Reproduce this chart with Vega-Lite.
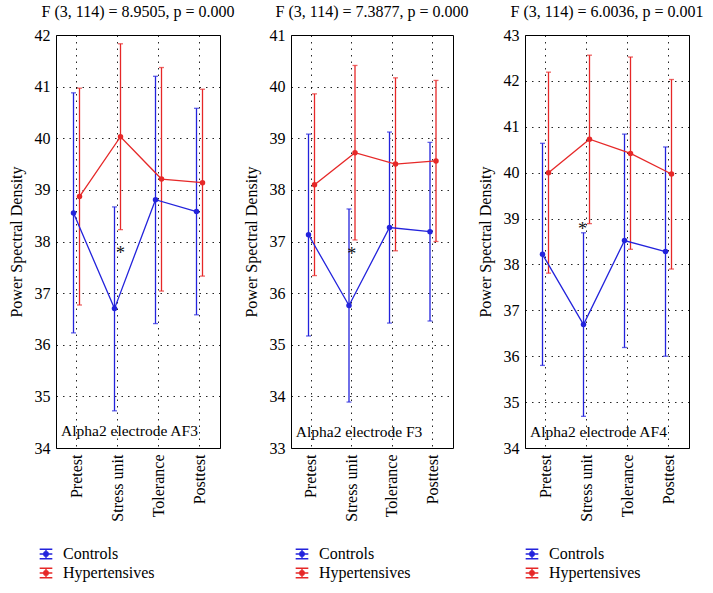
{
  "$schema": "https://vega.github.io/schema/vega-lite/v6.json",
  "background": "white",
  "padding": {"left": 7, "top": 3, "right": 5, "bottom": 5},
  "spacing": 6,
  "datasets": {
    "d": [
      {"panel": "AF3", "phase": "Pretest", "group": "Controls", "mean": 38.55, "lo": 36.23, "hi": 40.88},
      {"panel": "AF3", "phase": "Pretest", "group": "Hypertensives", "mean": 38.87, "lo": 36.77, "hi": 40.97},
      {"panel": "AF3", "phase": "Stress unit", "group": "Controls", "mean": 36.70, "lo": 34.72, "hi": 38.67},
      {"panel": "AF3", "phase": "Stress unit", "group": "Hypertensives", "mean": 40.03, "lo": 38.23, "hi": 41.83},
      {"panel": "AF3", "phase": "Tolerance", "group": "Controls", "mean": 38.81, "lo": 36.41, "hi": 41.20},
      {"panel": "AF3", "phase": "Tolerance", "group": "Hypertensives", "mean": 39.21, "lo": 37.04, "hi": 41.37},
      {"panel": "AF3", "phase": "Posttest", "group": "Controls", "mean": 38.58, "lo": 36.58, "hi": 40.58},
      {"panel": "AF3", "phase": "Posttest", "group": "Hypertensives", "mean": 39.14, "lo": 37.33, "hi": 40.95},
      {"panel": "F3", "phase": "Pretest", "group": "Controls", "mean": 37.13, "lo": 35.17, "hi": 39.08},
      {"panel": "F3", "phase": "Pretest", "group": "Hypertensives", "mean": 38.10, "lo": 36.34, "hi": 39.86},
      {"panel": "F3", "phase": "Stress unit", "group": "Controls", "mean": 35.76, "lo": 33.89, "hi": 37.63},
      {"panel": "F3", "phase": "Stress unit", "group": "Hypertensives", "mean": 38.72, "lo": 37.03, "hi": 40.41},
      {"panel": "F3", "phase": "Tolerance", "group": "Controls", "mean": 37.27, "lo": 35.42, "hi": 39.12},
      {"panel": "F3", "phase": "Tolerance", "group": "Hypertensives", "mean": 38.50, "lo": 36.82, "hi": 40.17},
      {"panel": "F3", "phase": "Posttest", "group": "Controls", "mean": 37.19, "lo": 35.46, "hi": 38.92},
      {"panel": "F3", "phase": "Posttest", "group": "Hypertensives", "mean": 38.56, "lo": 37.00, "hi": 40.12},
      {"panel": "AF4", "phase": "Pretest", "group": "Controls", "mean": 38.22, "lo": 35.80, "hi": 40.64},
      {"panel": "AF4", "phase": "Pretest", "group": "Hypertensives", "mean": 40.00, "lo": 37.81, "hi": 42.19},
      {"panel": "AF4", "phase": "Stress unit", "group": "Controls", "mean": 36.69, "lo": 34.69, "hi": 38.69},
      {"panel": "AF4", "phase": "Stress unit", "group": "Hypertensives", "mean": 40.73, "lo": 38.89, "hi": 42.56},
      {"panel": "AF4", "phase": "Tolerance", "group": "Controls", "mean": 38.52, "lo": 36.19, "hi": 40.84},
      {"panel": "AF4", "phase": "Tolerance", "group": "Hypertensives", "mean": 40.42, "lo": 38.33, "hi": 42.52},
      {"panel": "AF4", "phase": "Posttest", "group": "Controls", "mean": 38.28, "lo": 36.00, "hi": 40.56},
      {"panel": "AF4", "phase": "Posttest", "group": "Hypertensives", "mean": 39.97, "lo": 37.90, "hi": 42.03}
    ]
  },
  "config": {
    "font": "Liberation Serif, Times New Roman, serif",
    "view": {"stroke": "black", "strokeWidth": 1},
    "axis": {
      "labelFont": "Liberation Serif, Times New Roman, serif", "labelFontSize": 16, "labelColor": "black",
      "titleFont": "Liberation Serif, Times New Roman, serif", "titleFontSize": 16, "titleFontWeight": "normal", "titleColor": "black",
      "gridColor": "black", "gridDash": [1.5, 5], "gridOpacity": 0.85, "gridWidth": 1,
      "domain": false, "ticks": false
    },
    "legend": {
      "labelFont": "Liberation Serif, Times New Roman, serif", "labelFontSize": 16, "labelColor": "black",
      "symbolType": "M-1,-0.75H1M0,-0.75V0.75M-1,0.75H1M-1,0H1M-0.35,0A0.35,0.35 0 1,0 0.35,0A0.35,0.35 0 1,0 -0.35,0Z",
      "symbolSize": 160, "symbolStrokeWidth": 1.4, "symbolOpacity": 1, "rowPadding": 3, "labelOffset": 9
    },
    "text": {"font": "Liberation Serif, Times New Roman, serif"},
    "title": {"font": "Liberation Serif, Times New Roman, serif", "fontSize": 16, "fontWeight": "normal", "color": "black", "offset": 7}
  },
  "resolve": {"legend": {"color": "independent"}},
  "hconcat": [
    {
      "width": 164, "height": 413,
      "title": "F (3, 114) = 8.9505, p = 0.000",
      "encoding": {
        "x": {"field": "phase", "type": "nominal", "sort": ["Pretest", "Stress unit", "Tolerance", "Posttest"],
              "scale": {"type": "band", "paddingInner": 0, "paddingOuter": 0},
              "axis": {"title": null, "labelAngle": -90, "grid": true, "labelPadding": 6}}
      },
      "layer": [
        {
          "data": {"name": "d"},
          "transform": [{"filter": "datum.panel == 'AF3'"}],
          "encoding": {
            "xOffset": {"field": "group", "type": "nominal", "scale": {"type": "point", "range": [17.5, 23.5], "padding": 0}},
            "color": {"field": "group", "type": "nominal",
                      "scale": {"domain": ["Controls", "Hypertensives"], "range": ["#2323dc", "#e62828"]},
                      "legend": {"title": null, "orient": "none", "legendX": -18, "legendY": 511}}
          },
          "layer": [
            {"mark": {"type": "rule", "strokeWidth": 1.3},
             "encoding": {"y": {"field": "lo", "type": "quantitative",
                                "scale": {"domain": [34, 42], "nice": false, "zero": false},
                                "axis": {"title": "Power Spectral Density", "values": [34, 35, 36, 37, 38, 39, 40, 41, 42], "grid": true, "labelPadding": 6, "titlePadding": 10}},
                          "y2": {"field": "hi"}}},
            {"mark": {"type": "tick", "size": 5, "thickness": 1.3}, "encoding": {"y": {"field": "lo", "type": "quantitative"}}},
            {"mark": {"type": "tick", "size": 5, "thickness": 1.3}, "encoding": {"y": {"field": "hi", "type": "quantitative"}}},
            {"mark": {"type": "line", "strokeWidth": 1.3}, "encoding": {"y": {"field": "mean", "type": "quantitative"}}},
            {"mark": {"type": "point", "filled": true, "size": 30, "opacity": 1}, "encoding": {"y": {"field": "mean", "type": "quantitative"}}}
          ]
        },
        {
          "data": {"values": [{}]},
          "mark": {"type": "text", "text": "*", "fontSize": 18, "color": "#111111", "dx": 3, "dy": 4},
          "encoding": {"x": {"datum": "Stress unit"}, "y": {"datum": 37.83}}
        },
        {
          "data": {"values": [{}]},
          "mark": {"type": "text", "text": "Alpha2 electrode AF3", "fontSize": 15.5, "align": "left", "baseline": "middle", "color": "black", "dx": -15.5},
          "encoding": {"x": {"datum": "Pretest"}, "y": {"datum": 34.32}}
        }
      ]
    },
    {
      "width": 162, "height": 413,
      "title": "F (3, 114) = 7.3877, p = 0.000",
      "encoding": {
        "x": {"field": "phase", "type": "nominal", "sort": ["Pretest", "Stress unit", "Tolerance", "Posttest"],
              "scale": {"type": "band", "paddingInner": 0, "paddingOuter": 0},
              "axis": {"title": null, "labelAngle": -90, "grid": true, "labelPadding": 6}}
      },
      "layer": [
        {
          "data": {"name": "d"},
          "transform": [{"filter": "datum.panel == 'F3'"}],
          "encoding": {
            "xOffset": {"field": "group", "type": "nominal", "scale": {"type": "point", "range": [17.25, 23.25], "padding": 0}},
            "color": {"field": "group", "type": "nominal",
                      "scale": {"domain": ["Controls", "Hypertensives"], "range": ["#2323dc", "#e62828"]},
                      "legend": {"title": null, "orient": "none", "legendX": 3, "legendY": 511}}
          },
          "layer": [
            {"mark": {"type": "rule", "strokeWidth": 1.3},
             "encoding": {"y": {"field": "lo", "type": "quantitative",
                                "scale": {"domain": [33, 41], "nice": false, "zero": false},
                                "axis": {"title": "Power Spectral Density", "values": [33, 34, 35, 36, 37, 38, 39, 40, 41], "grid": true, "labelPadding": 6, "titlePadding": 10}},
                          "y2": {"field": "hi"}}},
            {"mark": {"type": "tick", "size": 5, "thickness": 1.3}, "encoding": {"y": {"field": "lo", "type": "quantitative"}}},
            {"mark": {"type": "tick", "size": 5, "thickness": 1.3}, "encoding": {"y": {"field": "hi", "type": "quantitative"}}},
            {"mark": {"type": "line", "strokeWidth": 1.3}, "encoding": {"y": {"field": "mean", "type": "quantitative"}}},
            {"mark": {"type": "point", "filled": true, "size": 30, "opacity": 1}, "encoding": {"y": {"field": "mean", "type": "quantitative"}}}
          ]
        },
        {
          "data": {"values": [{}]},
          "mark": {"type": "text", "text": "*", "fontSize": 18, "color": "#111111", "dx": 0, "dy": 4},
          "encoding": {"x": {"datum": "Stress unit"}, "y": {"datum": 36.82}}
        },
        {
          "data": {"values": [{}]},
          "mark": {"type": "text", "text": "Alpha2 electrode F3", "fontSize": 15.5, "align": "left", "baseline": "middle", "color": "black", "dx": -15.5},
          "encoding": {"x": {"datum": "Pretest"}, "y": {"datum": 33.31}}
        }
      ]
    },
    {
      "width": 164, "height": 413,
      "title": "F (3, 114) = 6.0036, p = 0.001",
      "encoding": {
        "x": {"field": "phase", "type": "nominal", "sort": ["Pretest", "Stress unit", "Tolerance", "Posttest"],
              "scale": {"type": "band", "paddingInner": 0, "paddingOuter": 0},
              "axis": {"title": null, "labelAngle": -90, "grid": true, "labelPadding": 6}}
      },
      "layer": [
        {
          "data": {"name": "d"},
          "transform": [{"filter": "datum.panel == 'AF4'"}],
          "encoding": {
            "xOffset": {"field": "group", "type": "nominal", "scale": {"type": "point", "range": [17.5, 23.5], "padding": 0}},
            "color": {"field": "group", "type": "nominal",
                      "scale": {"domain": ["Controls", "Hypertensives"], "range": ["#2323dc", "#e62828"]},
                      "legend": {"title": null, "orient": "none", "legendX": -1, "legendY": 511}}
          },
          "layer": [
            {"mark": {"type": "rule", "strokeWidth": 1.3},
             "encoding": {"y": {"field": "lo", "type": "quantitative",
                                "scale": {"domain": [34, 43], "nice": false, "zero": false},
                                "axis": {"title": "Power Spectral Density", "values": [34, 35, 36, 37, 38, 39, 40, 41, 42, 43], "grid": true, "labelPadding": 6, "titlePadding": 10}},
                          "y2": {"field": "hi"}}},
            {"mark": {"type": "tick", "size": 5, "thickness": 1.3}, "encoding": {"y": {"field": "lo", "type": "quantitative"}}},
            {"mark": {"type": "tick", "size": 5, "thickness": 1.3}, "encoding": {"y": {"field": "hi", "type": "quantitative"}}},
            {"mark": {"type": "line", "strokeWidth": 1.3}, "encoding": {"y": {"field": "mean", "type": "quantitative"}}},
            {"mark": {"type": "point", "filled": true, "size": 30, "opacity": 1}, "encoding": {"y": {"field": "mean", "type": "quantitative"}}}
          ]
        },
        {
          "data": {"values": [{}]},
          "mark": {"type": "text", "text": "*", "fontSize": 18, "color": "#111111", "dx": -4, "dy": 4},
          "encoding": {"x": {"datum": "Stress unit"}, "y": {"datum": 38.84}}
        },
        {
          "data": {"values": [{}]},
          "mark": {"type": "text", "text": "Alpha2 electrode AF4", "fontSize": 15.5, "align": "left", "baseline": "middle", "color": "black", "dx": -15.5},
          "encoding": {"x": {"datum": "Pretest"}, "y": {"datum": 34.34}}
        }
      ]
    }
  ]
}
